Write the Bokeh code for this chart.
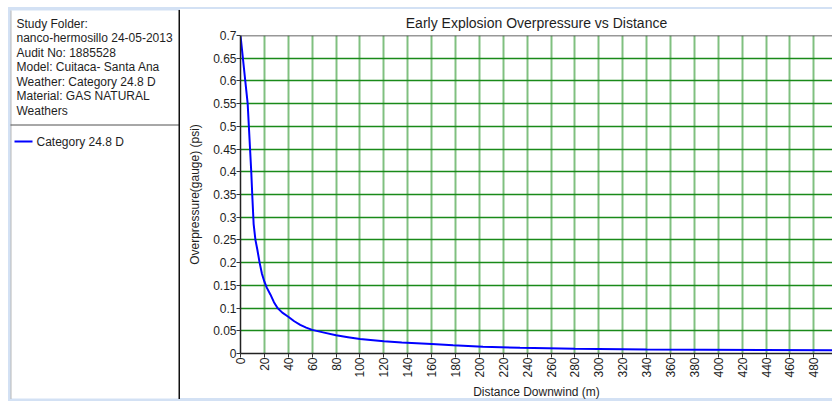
from bokeh.plotting import figure
from bokeh.layouts import row
from bokeh.models import Range1d, FixedTicker, Span
from bokeh.embed import file_html
from bokeh.resources import INLINE
from bokeh.core.properties import value
import math

# ---------------- data ----------------
distance_m = [0, 2, 4, 6, 7, 8, 9, 10, 11, 12.5, 14, 16, 18, 20, 22, 25, 28, 31,
              35, 40, 45, 50, 55, 60, 70, 80, 90, 100, 120, 135, 160, 178, 203,
              234, 280, 340, 436, 496]
overpressure_psi = [0.70, 0.65, 0.60, 0.55, 0.50, 0.45, 0.40, 0.34, 0.285, 0.25,
                    0.23, 0.20, 0.175, 0.158, 0.145, 0.13, 0.113, 0.10, 0.09,
                    0.081, 0.071, 0.063, 0.057, 0.052, 0.046, 0.040, 0.036,
                    0.032, 0.027, 0.024, 0.021, 0.018, 0.015, 0.0125, 0.0105,
                    0.009, 0.0075, 0.0072]
x_ticks = [0, 20, 40, 60, 80, 100, 120, 140, 160, 180, 200, 220, 240, 260, 280,
           300, 320, 340, 360, 380, 400, 420, 440, 460, 480]
y_ticks = [0, 0.05, 0.1, 0.15, 0.2, 0.25, 0.3, 0.35, 0.4, 0.45, 0.5, 0.55, 0.6,
           0.65, 0.7]
y_tick_labels = ["0", "0.05", "0.1", "0.15", "0.2", "0.25", "0.3", "0.35", "0.4",
                 "0.45", "0.5", "0.55", "0.6", "0.65", "0.7"]
info_lines = ["Study Folder:", "nanco-hermosillo 24-05-2013", "Audit No: 1885528",
              "Model: Cuitaca- Santa Ana", "Weather: Category 24.8 D",
              "Material: GAS NATURAL", "Weathers"]
series_name = "Category 24.8 D"
chart_title = "Early Explosion Overpressure vs Distance"
x_label = "Distance Downwind (m)"
y_label = "Overpressure(gauge) (psi)"

FONT = "Liberation Sans"
BAND = "#d3e1f4"
TXT = "#1e1e1e"
H = 401

# ---------------- left info panel ----------------
left = figure(width=180, height=H, x_range=Range1d(0, 180),
              y_range=Range1d(H, 0), x_axis_type=None, y_axis_type=None,
              title=None, output_backend="svg", toolbar_location=None,
              min_border=0)
left.frame_align = False
left.grid.visible = False
left.outline_line_color = None
left.border_fill_color = "white"
left.background_fill_color = "white"

left.quad(left=[8], right=[10], top=[7], bottom=[H], color=BAND)
left.quad(left=[8], right=[180], top=[7], bottom=[9.5], color=BAND)
left.quad(left=[8], right=[180], top=[398.5], bottom=[H], color=BAND)
left.segment(x0=[10.5], y0=[10], x1=[10.5], y1=[398.5], line_color="#b8b8b8", line_width=1)
left.segment(x0=[10], y0=[124.5], x1=[179], y1=[124.5], line_color="#505050", line_width=1)
left.segment(x0=[179], y0=[9.5], x1=[179], y1=[398.5], line_color="#111111", line_width=2)

left.text(x=[16] * len(info_lines), y=[23 + 14.5 * i for i in range(len(info_lines))],
          text=info_lines, text_font=value(FONT), text_font_size="12px",
          text_baseline="middle", text_color=TXT)
left.line(x=[14, 32], y=[141, 141], line_color="#0000ff", line_width=2)
left.text(x=[36], y=[141], text=[series_name], text_font=value(FONT),
          text_font_size="12px", text_baseline="middle", text_color=TXT)

# ---------------- main chart ----------------
p = figure(width=652, height=H, x_range=Range1d(0, 495.6), y_range=Range1d(0, 0.7),
           min_border_left=60, min_border_right=0, min_border_top=35,
           min_border_bottom=46, output_backend="svg", toolbar_location=None,
           title=chart_title)
p.frame_align = False
p.outline_line_color = None
p.border_fill_color = None
p.background_fill_color = "white"
# window bands behind the transparent border area
p.styles = {"background": "linear-gradient(to bottom, #ffffff 0px, #ffffff 7px, "
                          + BAND + " 7px, " + BAND + " 9.5px, #ffffff 9.5px, "
                          "#ffffff 398.5px, " + BAND + " 398.5px, " + BAND + " 401px)"}

p.title.text_font = FONT
p.title.text_font_size = "14px"
p.title.text_font_style = "normal"
p.title.text_color = TXT
p.title.align = "center"

p.xaxis.ticker = FixedTicker(ticks=x_ticks)
p.yaxis.ticker = FixedTicker(ticks=y_ticks)
p.yaxis.major_label_overrides = {t: s for t, s in zip(y_ticks, y_tick_labels)}
p.xaxis.major_label_orientation = math.pi / 2
p.xaxis.axis_label = x_label
p.yaxis.axis_label = y_label

for ax in (p.xaxis[0], p.yaxis[0]):
    ax.axis_label_text_font = FONT
    ax.axis_label_text_font_size = "12px"
    ax.axis_label_text_font_style = "normal"
    ax.axis_label_text_color = TXT
    ax.major_label_text_font = FONT
    ax.major_label_text_font_size = "12px"
    ax.major_label_text_color = TXT
    ax.major_label_standoff = 0
    ax.major_tick_out = 4
    ax.major_tick_in = 0
    ax.minor_tick_out = 0
    ax.minor_tick_in = 0
    ax.major_tick_line_color = "#333333"
    ax.axis_line_color = "#222222"
    ax.axis_line_width = 1.5
p.yaxis.axis_label_standoff = 8
p.xaxis.axis_label_standoff = 4

p.xgrid.grid_line_color = "#80c080"
p.xgrid.grid_line_width = 2
p.ygrid.grid_line_color = "#1a8a1a"
p.ygrid.grid_line_width = 1.3

p.add_layout(Span(location=0.7, dimension="width", line_color="#333333", line_width=1.5))

p.line(x=distance_m, y=overpressure_psi, line_color="#0000ff", line_width=2)

layout = row(left, p, spacing=0)
open("out.html", "w").write(file_html(layout, INLINE))
